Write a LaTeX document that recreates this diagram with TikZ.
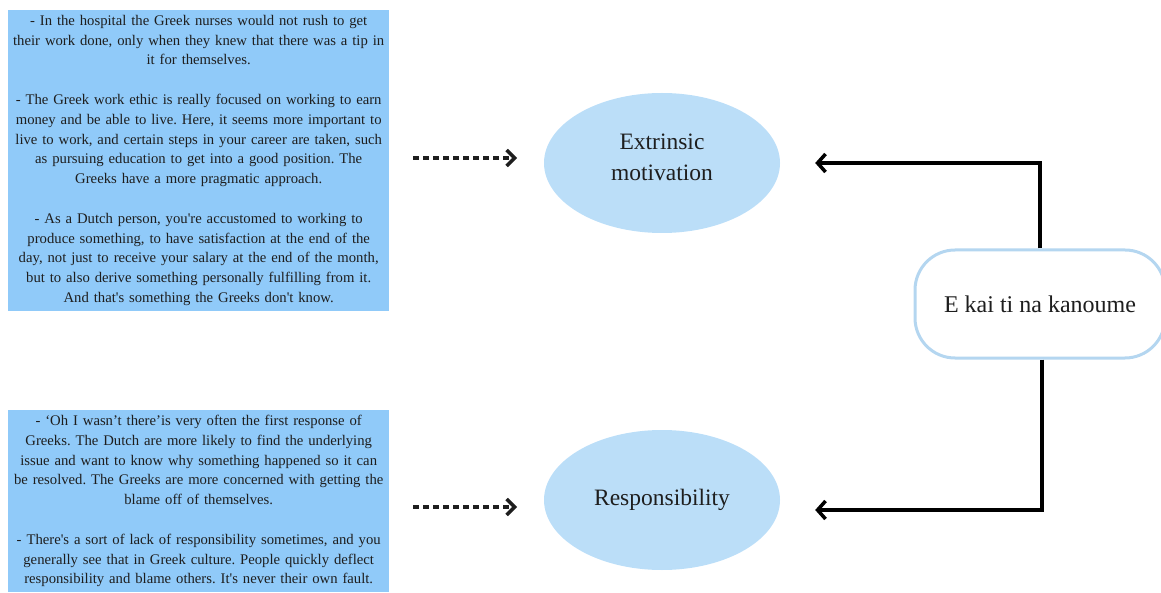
\documentclass[tikz,border=0pt]{standalone}
\usepackage{fontspec}
\setmainfont{Liberation Serif}[Ligatures=TeXOff]
\usetikzlibrary{arrows.meta,shapes.geometric}
\definecolor{quotebox}{RGB}{144,202,249}
\definecolor{themefill}{RGB}{187,222,248}
\definecolor{codeedge}{RGB}{180,214,240}
\definecolor{ink}{RGB}{30,30,30}
\tikzset{
  quotes/.style={fill=quotebox, text=ink, text width=377pt, align=center,
    inner xsep=2pt, inner ysep=5pt, anchor=north west,
    font=\fontsize{14.7}{19.8}\selectfont},
  theme/.style={ellipse, fill=themefill, text=ink, minimum width=236pt,
    minimum height=140pt, align=center, font=\fontsize{23.5}{31}\selectfont},
  code/.style={draw=codeedge, line width=3pt, fill=white, rounded corners=40pt,
    text=ink, minimum width=250pt, minimum height=108pt,
    font=\fontsize{24}{28}\selectfont},
  feed/.style={ink, line width=4pt, dash pattern=on 6pt off 4pt,
    -{Straight Barb[length=8pt,width=16pt,line width=3.5pt]}},
  link/.style={black, line width=4pt,
    -{Straight Barb[length=8pt,width=18pt,line width=3.5pt]}}
}
\begin{document}
\frenchspacing
\begin{tikzpicture}[x=1pt,y=-1pt]
\useasboundingbox (0,0) rectangle (1161,593);

% quotation panels
\node[quotes] (q1) at (8,10) {- In the hospital the Greek nurses would not rush to get\\
their work done, only when they knew that there was a tip in\\
it for themselves.\\[19.8pt]
- The Greek work ethic is really focused on working to earn\\
money and be able to live. Here, it seems more important to\\
live to work, and certain steps in your career are taken, such\\
as pursuing education to get into a good position. The\\
Greeks have a more pragmatic approach.\\[19.8pt]
- As a Dutch person, you're accustomed to working to\\
produce something, to have satisfaction at the end of the\\
day, not just to receive your salary at the end of the month,\\
but to also derive something personally fulfilling from it.\\
And that's something the Greeks don't know.};

\node[quotes] (q2) at (8,410) {- ‘Oh I wasn’t there’is very often the first response of\\
Greeks. The Dutch are more likely to find the underlying\\
issue and want to know why something happened so it can\\
be resolved. The Greeks are more concerned with getting the\\
blame off of themselves.\\[19.8pt]
- There's a sort of lack of responsibility sometimes, and you\\
generally see that in Greek culture. People quickly deflect\\
responsibility and blame others. It's never their own fault.\\[6pt]};

% themes
\node[theme] (ext) at (662,163) {Extrinsic\\motivation\\[-20pt]};
\node[theme] (resp) at (662,500) {Responsibility};

% code
\node[code] (ekai) at (1040,304) {E kai ti na kanoume};

% dotted links from the quotes to the themes
\coordinate (f1) at (413,158);
\coordinate (f2) at (413,507);
\draw[feed] (f1) -- (517,158);
\draw[feed] (f2) -- (517,507);

% code to themes
\draw[link] (ekai.north -| 1040,0) |- ([xshift=35pt]ext.east);
\draw[link] (ekai.south -| 1042,0) |- ([xshift=35pt,yshift=-10pt]resp.east);
\end{tikzpicture}
\end{document}
